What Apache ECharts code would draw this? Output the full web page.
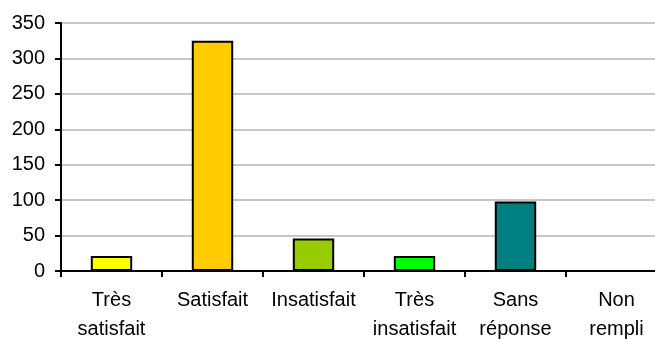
<!DOCTYPE html>
<html>
<head>
<meta charset="utf-8">
<script src="https://cdn.jsdelivr.net/npm/echarts@6/dist/echarts.min.js"></script>
<style>
  html, body { margin: 0; padding: 0; background: #fff; }
  #chart { width: 655px; height: 339px; }
</style>
</head>
<body>
<div id="chart"></div>
<script>
  // categories and values
  var categories = ['Très\nsatisfait', 'Satisfait', 'Insatisfait', 'Très\ninsatisfait', 'Sans\nréponse', 'Non\nrempli'];
  var values = [21, 325, 46, 21, 98, 0];
  var colors = ['#FFFF00', '#FFCC00', '#99CC00', '#00FF00', '#008080', '#FFFFFF'];
  var yTicks = [0, 50, 100, 150, 200, 250, 300, 350];

  var myChart = echarts.init(document.getElementById('chart'));
  var option = {
    animation: false,
    grid: {
      left: 61,
      top: 23,
      width: 606,
      height: 248,
      outerBoundsMode: 'none'
    },
    xAxis: {
      type: 'category',
      data: categories,
      axisLine: { lineStyle: { color: '#000', width: 2 } },
      axisTick: { show: true, length: 6, lineStyle: { color: '#000', width: 2 } },
      axisLabel: {
        color: '#000',
        fontFamily: 'Liberation Sans',
        fontSize: 20,
        lineHeight: 29,
        margin: 15,
        interval: 0
      }
    },
    yAxis: {
      type: 'value',
      min: yTicks[0],
      max: yTicks[yTicks.length - 1],
      interval: 50,
      axisLine: { show: true, lineStyle: { color: '#000', width: 2 } },
      axisTick: { show: true, length: 6, lineStyle: { color: '#000', width: 2 } },
      splitLine: { lineStyle: { color: '#b4b4b4', width: 1.5 } },
      axisLabel: {
        color: '#000',
        fontFamily: 'Liberation Sans',
        fontSize: 20,
        margin: 16
      }
    },
    series: [
      {
        type: 'bar',
        barWidth: '41%',
        data: values.map(function (v, i) {
          return { value: v, itemStyle: { color: colors[i] } };
        }),
        itemStyle: { borderColor: '#000', borderWidth: 2 }
      }
    ]
  };
  myChart.setOption(option);
</script>
</body>
</html>
